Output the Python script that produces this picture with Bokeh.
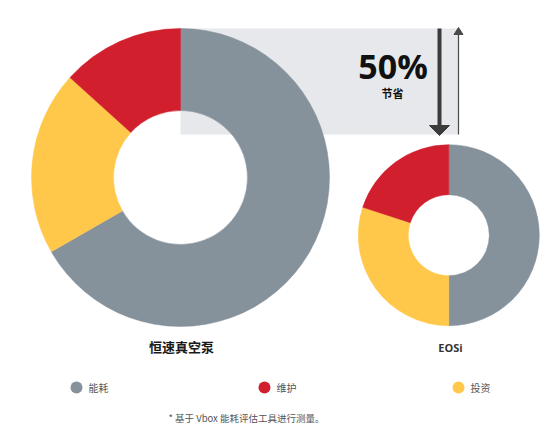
import math
from bokeh.plotting import figure
from bokeh.models import Range1d, ColumnDataSource
from bokeh.core.properties import value
from bokeh.embed import file_html
from bokeh.resources import INLINE

# ---- data ----
categories = ["能耗", "维护", "投资"]
colors = ["#85919B", "#D11F2E", "#FFC84B"]
constant_speed = [66.7, 13.3, 20.0]   # 恒速真空泵
eosi = [50.0, 20.0, 30.0]             # EOSi
draw_order = [0, 2, 1]                # clockwise from 12 o'clock: 能耗, 投资, 维护
pump_labels = ["恒速真空泵", "EOSi"]
saving_value = "50%"
saving_label = "节省"
footnote = "* 基于 Vbox 能耗评估工具进行测量。"

W, H = 551, 431
PW, PH = 543, 423
def Y(sy):
    return H - sy

p = figure(width=PW, height=PH, x_range=Range1d(0, PW), y_range=Range1d(Y(PH), Y(0)),
           toolbar_location=None, output_backend="svg", min_border=0)
p.axis.visible = False
p.grid.visible = False
p.outline_line_color = None
p.background_fill_color = "white"

CJK = "Noto Sans CJK SC"

# background band
p.quad(left=[180], right=[458], top=[Y(28)], bottom=[Y(134)], fill_color="#E6E8EB", line_color=None)

def donut(vals, cx, cy, r_in, r_out):
    total = sum(vals)
    starts, ends, cols = [], [], []
    cum = 0.0
    for i in draw_order:
        a0 = math.pi / 2 - 2 * math.pi * cum / total
        cum += vals[i]
        a1 = math.pi / 2 - 2 * math.pi * cum / total
        starts.append(a0); ends.append(a1); cols.append(colors[i])
    src = ColumnDataSource(dict(x=[cx] * len(starts), y=[cy] * len(starts), s=starts, e=ends, c=cols))
    p.annular_wedge(x="x", y="y", inner_radius=r_in, outer_radius=r_out, start_angle="s", end_angle="e",
                    direction="clock", fill_color="c", line_color="c", line_width=0.5,
                    inner_radius_units="screen", outer_radius_units="screen", source=src)

donut(constant_speed, 180, Y(177), 67, 149)
donut(eosi, 448.3, Y(234.7), 40.5, 90.5)

# arrows
p.segment(x0=[439], y0=[Y(28)], x1=[439], y1=[Y(126)], line_width=4, line_color="#3B3B3B")
p.patch(x=[429, 449, 439], y=[Y(125), Y(125), Y(135)], fill_color="#3B3B3B", line_color="#3B3B3B")
p.segment(x0=[458], y0=[Y(134)], x1=[458], y1=[Y(33)], line_width=1.2, line_color="#4A4A4A")
p.patch(x=[453.5, 462.5, 458], y=[Y(34), Y(34), Y(27)], fill_color="#4A4A4A", line_color="#4A4A4A")

# saving texts
p.text(x=[392.5], y=[Y(65)], text=[saving_value], text_font=value("Open Sans"), text_font_style="bold",
       text_font_size="34px", text_align="center", text_baseline="middle", text_color="#111111")
p.text(x=[392], y=[Y(92)], text=[saving_label], text_font=value(CJK), text_font_style="bold",
       text_font_size="11px", text_align="center", text_baseline="middle", text_color="#111111")

# donut labels
p.text(x=[181], y=[Y(346)], text=[pump_labels[0]], text_font=value(CJK), text_font_style="bold",
       text_font_size="13px", text_align="center", text_baseline="middle", text_color="#1A1A1A")
p.text(x=[450], y=[Y(347)], text=[pump_labels[1]], text_font=value("Open Sans"), text_font_style="bold",
       text_font_size="11px", text_align="center", text_baseline="middle", text_color="#333333")

# legend
lx = [76, 264, 458]
p.scatter(x=lx, y=[Y(387)] * 3, size=12, marker="circle", fill_color=colors, line_color=None)
p.text(x=[v + 12 for v in lx], y=[Y(387)] * 3, text=categories, text_font=value(CJK),
       text_font_size="10px", text_align="left", text_baseline="middle", text_color="#555555")

# footnote
p.text(x=[246], y=[Y(417)], text=[footnote], text_font=value(CJK), text_font_size="9.5px",
       text_align="center", text_baseline="middle", text_color="#555555")

open("out.html", "w").write(file_html(p, INLINE))
